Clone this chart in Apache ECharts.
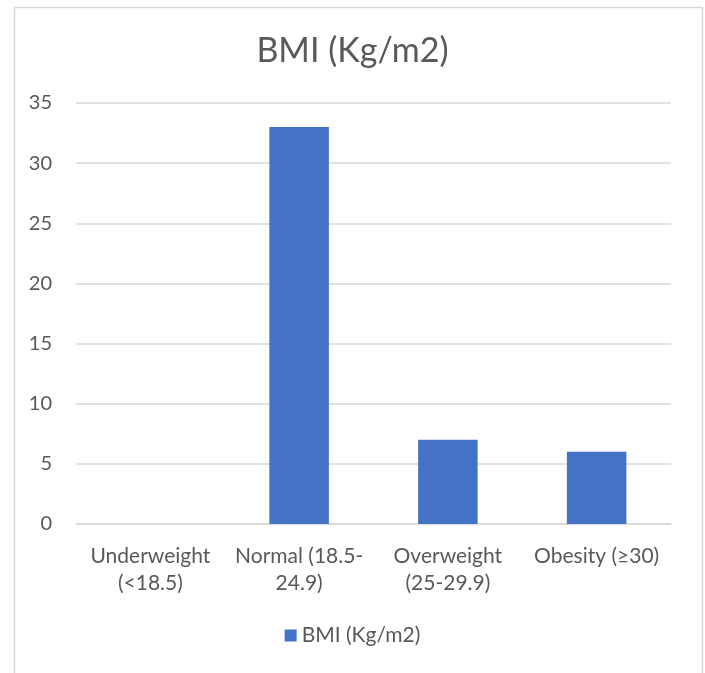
<!DOCTYPE html>
<html>
<head>
<meta charset="utf-8">
<script src="https://cdn.jsdelivr.net/npm/echarts@6/dist/echarts.min.js"></script>
<style>html,body{margin:0;padding:0;background:#fff}#c{width:705px;height:673px}</style>
</head>
<body>
<div id="c"></div>
<script>
const titleText = 'BMI (Kg/m2)';
const seriesName = 'BMI (Kg/m2)';
const categories = ['Underweight\n(<18.5)', 'Normal (18.5-\n24.9)', 'Overweight\n(25-29.9)', 'Obesity (≥30)'];
const values = [0, 33, 7, 6];
const yTicks = { min: 0, max: 35, interval: 5 };

const FONT = 'Lato';
const chart = echarts.init(document.getElementById('c'), null, { renderer: 'canvas' });
chart.setOption({
  animation: false,
  backgroundColor: '#ffffff',
  textStyle: { fontFamily: FONT },
  graphic: [{
    type: 'rect', left: 12, top: 5, silent: true,
    shape: { width: 688, height: 720 },
    style: { fill: 'none', stroke: '#d9d9d9', lineWidth: 1.5 }
  }],
  title: {
    text: titleText, left: 'center', top: 29,
    textStyle: { fontFamily: FONT, fontSize: 34, fontWeight: 'normal', color: '#595959' }
  },
  legend: {
    bottom: 22, left: 'center',
    itemWidth: 12, itemHeight: 12, itemGap: 8,
    icon: 'rect',
    textStyle: { fontFamily: FONT, fontSize: 21, color: '#595959' },
    data: [seriesName]
  },
  grid: { left: 76, right: 34, top: 103, bottom: 149, containLabel: false },
  xAxis: {
    type: 'category', data: categories,
    axisLine: { show: true, lineStyle: { color: '#d9d9d9', width: 1.5 } },
    axisTick: { show: false },
    axisLabel: { color: '#595959', fontFamily: FONT, fontSize: 21, margin: 19, lineHeight: 27, interval: 0 }
  },
  yAxis: {
    type: 'value', min: yTicks.min, max: yTicks.max, interval: yTicks.interval,
    axisLine: { show: false }, axisTick: { show: false },
    axisLabel: { color: '#595959', fontFamily: FONT, fontSize: 20, margin: 24 },
    splitLine: { lineStyle: { color: '#d9d9d9', width: 1.5 } }
  },
  series: [{
    name: seriesName, type: 'bar', data: values,
    barWidth: '40%',
    itemStyle: { color: '#4472C4' }
  }]
});
</script>
</body>
</html>
